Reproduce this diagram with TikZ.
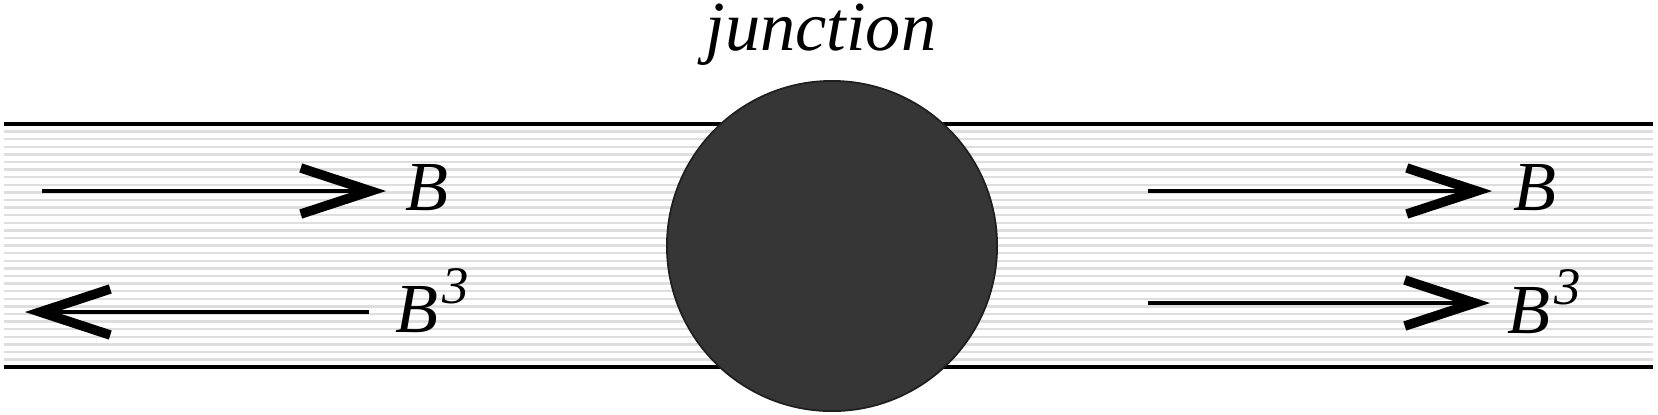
\documentclass[tikz,border=0pt]{standalone}
\usepackage{fontspec}
\setmainfont{Liberation Serif}
\usetikzlibrary{arrows.meta}
\newcommand{\Bcube}{B\kern1pt\raisebox{8pt}{\fontsize{15}{16}\selectfont 3}}
\tikzset{
    wall/.style={line width=0.9pt},
    hatch/.style={line width=0.7pt,black!13},
    flow/.style={line width=0.9pt,-{Straight Barb[length=0.7cm,width=0.46cm,line width=2.7pt,sharp]}},
    sym/.style={inner sep=0pt,anchor=base west,font=\fontsize{20}{24}\selectfont\itshape},
    ball/.style={circle,draw=black!88,line width=0.5pt,fill=black!79,minimum size=3.3cm,inner sep=0pt}
}
\begin{document}
\begin{tikzpicture}[x=0.01cm,y=-0.01cm]
        \useasboundingbox (0,0) rectangle (1658,414);
        % striped channel
        \foreach \k in {1,...,31}
            \draw[hatch] (4,124+7.6*\k) -- (1653,124+7.6*\k);
        \draw[wall] (4,124) -- (1653,124);
        \draw[wall] (4,367) -- (1653,367);
        % the junction
        \node[ball] (jn) at (832,246) {};
        \node[sym,anchor=base] (jname) at (821,50) {junction};
        % waves on the left
        \coordinate (ls1) at (42,191);
        \coordinate (le1) at (386,191);
        \coordinate (ls2) at (369,312);
        \coordinate (le2) at (25,312);
        \node[sym] (lb1) at (405,210) {B};
        \node[sym] (lb2) at (395,332) {\Bcube};
        % waves on the right
        \coordinate (rs1) at (1148,191);
        \coordinate (re1) at (1492,191);
        \coordinate (rs2) at (1148,303);
        \coordinate (re2) at (1490,303);
        \node[sym] (rb1) at (1513,210) {B};
        \node[sym] (rb2) at (1507,333) {\Bcube};
        \begin{scope}[every path/.style={flow}]
            \draw (ls1) -- (le1);
            \draw (ls2) -- (le2);
            \draw (rs1) -- (re1);
            \draw (rs2) -- (re2);
        \end{scope}
\end{tikzpicture}
\end{document}
